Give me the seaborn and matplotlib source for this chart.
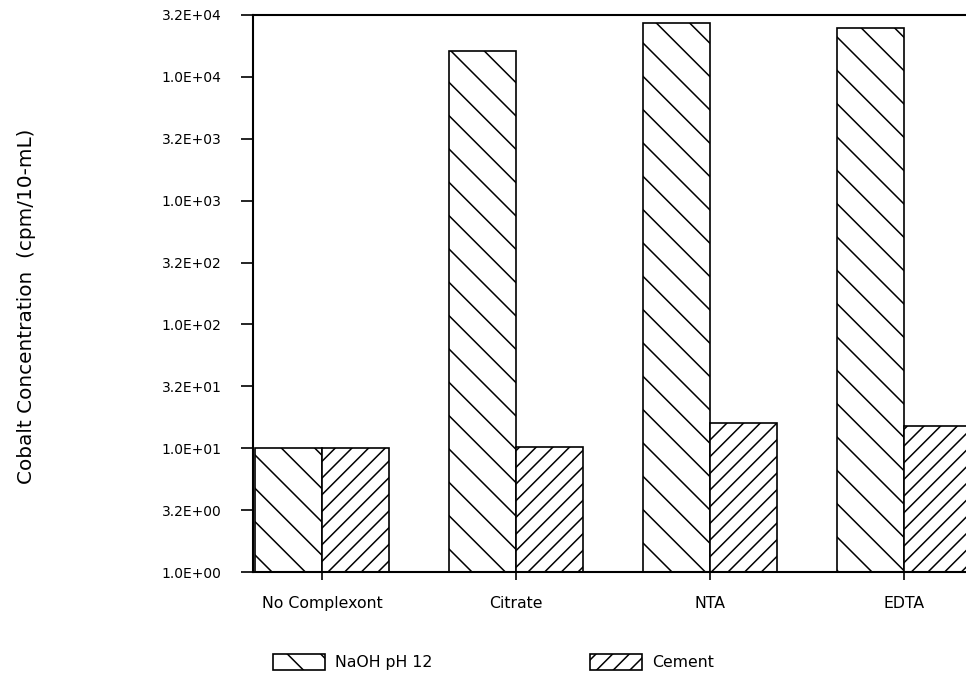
import matplotlib
matplotlib.use("Agg")
import matplotlib.pyplot as plt
import numpy as np
import pandas as pd
import seaborn as sns
from matplotlib.patches import Patch
from matplotlib.ticker import FixedLocator, FuncFormatter, NullLocator

# Cobalt leached into solution (cpm per 10 mL) for each complexing agent
complexants = ["No Complexont", "Citrate", "NTA", "EDTA"]
media = ["NaOH pH 12", "Cement"]
naoh_cpm = [10.0, 16200.0, 27200.0, 24800.0]
cement_cpm = [10.0, 10.2, 16.0, 15.1]

# half-decade tick exponents of the log axis
tick_exponents = [0.0, 0.5, 1.0, 1.5, 2.0, 2.5, 3.0, 3.5, 4.0, 4.5]
media_hatches = ["\\\\", "////"]

sns.set_theme(style="white")
plt.rcParams["font.family"] = ["DejaVu Sans"]
plt.rcParams["text.color"] = "black"
plt.rcParams["hatch.linewidth"] = 0.55
plt.rcParams["hatch.color"] = "black"

df = pd.DataFrame({
    "complexant": complexants * 2,
    "medium": [media[0]] * len(complexants) + [media[1]] * len(complexants),
    "cpm": naoh_cpm + cement_cpm,
})

W, H = 966, 675
fig = plt.figure(figsize=(W / 200, H / 200), dpi=200)
fig.patch.set_facecolor("white")
ax = fig.add_axes([253 / W, 1 - 572 / H, 1 - 253 / W, (572 - 15) / H])
ax.set_yscale("log", nonpositive="clip")

sns.barplot(
    data=df, x="complexant", y="cpm", hue="medium",
    order=complexants, hue_order=media,
    palette=["white", "white"], saturation=1,
    edgecolor="black", linewidth=0.6,
    width=0.69, errorbar=None, legend=False, ax=ax,
)

for container, hatch in zip(ax.containers, media_hatches):
    for bar in container:
        bar.set_hatch(hatch)
        bar.set_edgecolor("black")

ax.set_ylim(1, 10 ** 4.5)
ax.set_xlim(-0.356, 3.32)
ax.yaxis.set_major_locator(FixedLocator([10 ** e for e in tick_exponents]))
ax.yaxis.set_minor_locator(NullLocator())
ax.yaxis.set_major_formatter(FuncFormatter(lambda v, _: f"{v:.1E}"))

ax.tick_params(axis="y", direction="out", length=4.4, width=0.6, pad=7,
               labelsize=5.0, left=True, colors="black")
ax.tick_params(axis="x", direction="out", length=3.0, width=0.6, pad=5.5,
               labelsize=5.7, bottom=True, colors="black")
ax.set_xlabel("")
ax.set_ylabel("")
ax.grid(False)
ax.set_facecolor("white")

for side in ("left", "top", "bottom"):
    ax.spines[side].set_visible(True)
    ax.spines[side].set_linewidth(0.75)
    ax.spines[side].set_color("black")
ax.spines["right"].set_visible(False)

fig.text(27 / W, 1 - 306 / H, "Cobalt Concentration  (cpm/10-mL)",
         rotation=90, ha="center", va="center", fontsize=7.2, color="black")

legend_x = [273 / W, 590 / W]
for name, hatch, lx in zip(media, media_hatches, legend_x):
    fig.legend(
        handles=[Patch(facecolor="white", edgecolor="black", hatch=hatch, linewidth=0.6)],
        labels=[name], loc="center left", bbox_to_anchor=(lx, 1 - 662 / H),
        frameon=False, borderpad=0, borderaxespad=0, labelcolor="black",
        handlelength=3.3, handleheight=1.25, handletextpad=0.6, fontsize=5.7,
    )

fig.savefig("out.png", dpi=200, facecolor="white")
